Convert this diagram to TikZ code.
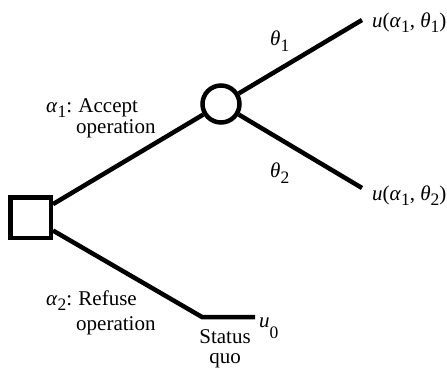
\documentclass[tikz,border=0pt]{standalone}
\usepackage{fontspec}
\setmainfont{Liberation Serif}
% subscript digit set low, as in the printed tree
\newcommand\lowsub[2][-5pt]{\raisebox{#1}{\fontsize{17.5}{17.5}\selectfont #2}}
\begin{document}
\begin{tikzpicture}[x=1pt,y=-1pt,
  branch/.style={line width=4.5pt},
  lbl/.style={inner sep=0pt,anchor=base west,font=\fontsize{21}{22}\selectfont},
  clbl/.style={inner sep=0pt,anchor=base,font=\fontsize{21}{22}\selectfont}]
\useasboundingbox (0,0) rectangle (447,370);

% decision and chance nodes
\node[draw,line width=4.5pt,rectangle,minimum size=40.5pt,inner sep=0pt] (dec) at (30.5,217.5) {};
\node[draw,line width=4.5pt,circle,minimum size=37pt,inner sep=0pt] (chance) at (221,104) {};

% branch ends
\coordinate (t1) at (362,20);
\coordinate (t2) at (362,188);
\coordinate (sq) at (202,317);
\coordinate (sqend) at (255,317);

\draw[branch] (dec) -- (chance);
\draw[branch] (chance) -- (t1);
\draw[branch] (chance) -- (t2);
\draw[branch,line join=miter] (dec) -- (sq) -- (sqend);

% labels
\node[lbl] (a1) at (46,112) {\textit{α}\lowsub{1}:\hspace{0.3em}Accept};
\node[lbl] (a1b) at (76,133) {operation};
\node[lbl] (a2) at (46,305) {\textit{α}\lowsub{2}:\hspace{0.3em}Refuse};
\node[lbl] (a2b) at (76,330) {operation};
\node[lbl] (th1) at (270,45) {\textit{θ}\lowsub[-6pt]{1}};
\node[lbl] (th2) at (270,177) {\textit{θ}\lowsub[-6pt]{2}};
\node[lbl] (u1) at (372,27) {\textit{u}(\textit{α}\lowsub{1}, \textit{θ}\lowsub{1})};
\node[lbl] (u2) at (372,200) {\textit{u}(\textit{α}\lowsub{1}, \textit{θ}\lowsub{2})};
\node[lbl] (u0) at (259,327) {\textit{u}\lowsub[-11pt]{0}};
\node[clbl] (st) at (225,343) {Status};
\node[clbl] (quo) at (225,363) {quo};
\end{tikzpicture}
\end{document}
